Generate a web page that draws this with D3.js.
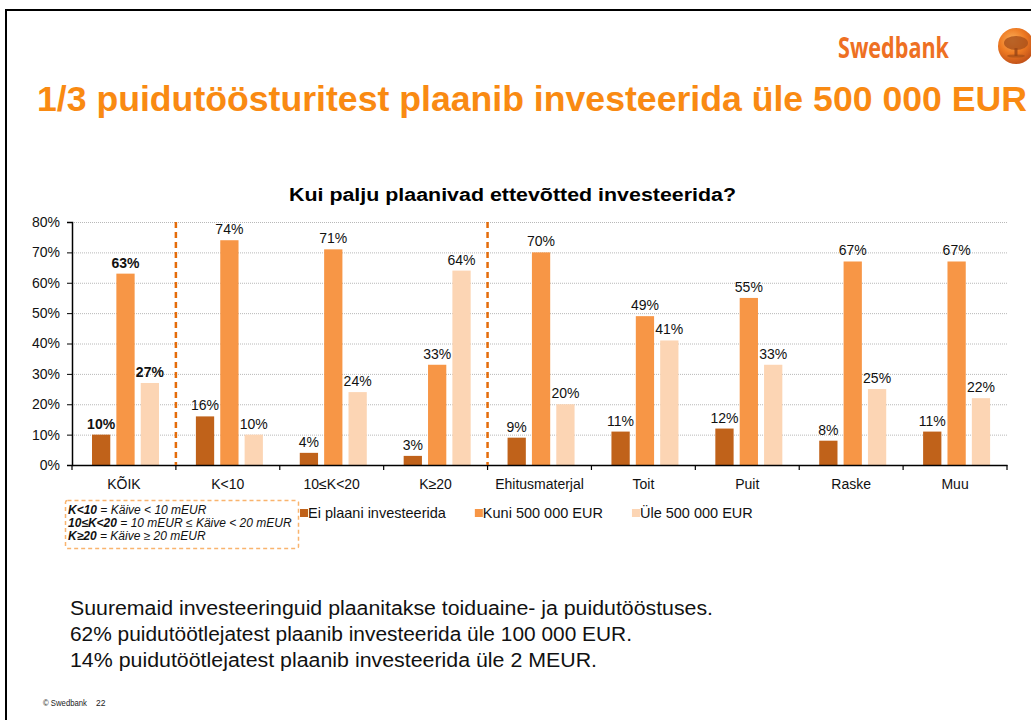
<!DOCTYPE html>
<html>
<head>
<meta charset="utf-8">
<script src="https://cdn.jsdelivr.net/npm/d3@7"></script>
<style>
  body { margin: 0; background: #fff; }
  svg { display: block; font-family: "Liberation Sans", Arial, sans-serif; }
</style>
</head>
<body>
<div id="chart"></div>
<script>
// data
var categories = ["KÕIK", "K<10", "10≤K<20", "K≥20", "Ehitusmaterjal", "Toit", "Puit", "Raske", "Muu"];
var seriesNames = ["Ei plaani investeerida", "Kuni 500 000 EUR", "Üle 500 000 EUR"];
var eiPlaani = [10, 16, 4, 3, 9, 11, 12, 8, 11];
var kuni500 = [63, 74, 71, 33, 70, 49, 55, 67, 67];
var ule500 = [27, 10, 24, 64, 20, 41, 33, 25, 22];
var yTicks = [0, 10, 20, 30, 40, 50, 60, 70, 80];
var separatorsAfter = ["KÕIK", "K≥20"]; // dashed lines after these groups
var noteLines = [
  ["K<10", " = Käive < 10 mEUR"],
  ["10≤K<20", " = 10 mEUR ≤ Käive < 20 mEUR"],
  ["K≥20", " = Käive ≥ 20 mEUR"]
];
var textLines = [
  "Suuremaid investeeringuid plaanitakse toiduaine- ja puidutööstuses.",
  "62% puidutöötlejatest plaanib investeerida üle 100 000 EUR.",
  "14% puidutöötlejatest plaanib investeerida üle 2 MEUR."
];
var textWidths = [643, 562, 527];

var colors = ["#C0621A", "#F79646", "#FCD5B4"];
var orange = "#F98A12";

var width = 1031, height = 720;
var svg = d3.select("#chart").append("svg")
  .attr("width", width)
  .attr("height", height);

// slide frame
svg.append("rect")
  .attr("x", 6).attr("y", 10)
  .attr("width", 1100).attr("height", 800)
  .attr("fill", "none").attr("stroke", "#000").attr("stroke-width", 2);

// logo
var defs = svg.append("defs");
var grad = defs.append("radialGradient").attr("id", "logoGrad")
  .attr("cx", "40%").attr("cy", "35%").attr("r", "65%");
grad.append("stop").attr("offset", "0%").attr("stop-color", "#FBB15C");
grad.append("stop").attr("offset", "55%").attr("stop-color", "#EE7A22");
grad.append("stop").attr("offset", "100%").attr("stop-color", "#C4541A");

svg.append("text")
  .attr("x", 838).attr("y", 58)
  .attr("font-family", "'Open Sans', 'Noto Sans', sans-serif")
  .attr("font-weight", 700)
  .attr("font-size", 28)
  .attr("textLength", 111).attr("lengthAdjust", "spacingAndGlyphs")
  .attr("fill", "#EE7023")
  .text("Swedbank");

var logo = svg.append("g").attr("transform", "translate(1016,46)");
logo.append("circle").attr("r", 18).attr("fill", "url(#logoGrad)");
logo.append("ellipse").attr("cx", 0).attr("cy", -3).attr("rx", 12).attr("ry", 7)
  .attr("fill", "#A9501A").attr("opacity", 0.8);
logo.append("rect").attr("x", -1.5).attr("y", 2).attr("width", 3).attr("height", 8)
  .attr("fill", "#9A4716").attr("opacity", 0.85);
logo.append("ellipse").attr("cx", 0).attr("cy", 10).attr("rx", 9).attr("ry", 1.6)
  .attr("fill", "#9A4716").attr("opacity", 0.6);

// main title
svg.append("text")
  .attr("x", 37).attr("y", 111)
  .attr("font-weight", "bold")
  .attr("font-size", 35)
  .attr("textLength", 990).attr("lengthAdjust", "spacingAndGlyphs")
  .attr("fill", orange)
  .text("1/3 puidutöösturitest plaanib investeerida üle 500 000 EUR");

// chart title
svg.append("text")
  .attr("x", 289).attr("y", 201)
  .attr("font-weight", "bold")
  .attr("font-size", 18)
  .attr("textLength", 447).attr("lengthAdjust", "spacingAndGlyphs")
  .attr("fill", "#000")
  .text("Kui palju plaanivad ettevõtted investeerida?");

// scales
var plotLeft = 72, plotRight = 1007, plotTop = 222, plotBottom = 465;
var x0 = d3.scaleBand().domain(categories).range([plotLeft, plotRight]).padding(0);
var x1 = d3.scaleBand().domain(d3.range(3)).range([20, 87]).paddingInner(0.25).paddingOuter(0);
var y = d3.scaleLinear().domain([0, 80]).range([plotBottom, plotTop]);

var table = categories.map(function(c, i) {
  return { cat: c, values: [eiPlaani[i], kuni500[i], ule500[i]] };
});

// gridlines
svg.append("g").selectAll("line")
  .data(yTicks.filter(function(d) { return d > 0; }))
  .enter().append("line")
  .attr("x1", plotLeft).attr("x2", plotRight)
  .attr("y1", function(d) { return y(d) + 0.5; })
  .attr("y2", function(d) { return y(d) + 0.5; })
  .attr("stroke", "#B8B8B8").attr("stroke-width", 1)
  .attr("stroke-dasharray", "1,1");

// bars
var groups = svg.append("g").selectAll("g")
  .data(table)
  .enter().append("g")
  .attr("transform", function(d) { return "translate(" + x0(d.cat) + ",0)"; });

groups.selectAll("rect")
  .data(function(d) { return d.values; })
  .enter().append("rect")
  .attr("x", function(d, i) { return x1(i); })
  .attr("width", x1.bandwidth())
  .attr("y", function(d) { return y(d); })
  .attr("height", function(d) { return plotBottom - y(d); })
  .attr("fill", function(d, i) { return colors[i]; });

groups.selectAll("text")
  .data(function(d) { return d.values.map(function(v) { return { v: v, bold: d.cat === "KÕIK" }; }); })
  .enter().append("text")
  .attr("x", function(d, i) { return x1(i) + x1.bandwidth() / 2; })
  .attr("y", function(d) { return y(d.v) - 6; })
  .attr("text-anchor", "middle")
  .attr("font-size", 14)
  .attr("font-weight", function(d) { return d.bold ? "bold" : "normal"; })
  .attr("fill", "#111")
  .text(function(d) { return d.v + "%"; });

// y axis
var yAxis = svg.append("g")
  .attr("transform", "translate(" + plotLeft + ",0)")
  .call(d3.axisLeft(y).tickValues(yTicks).tickSize(5).tickPadding(7)
    .tickFormat(function(d) { return d + "%"; }));
yAxis.select(".domain").attr("stroke", "#000").attr("stroke-width", 1.5);
yAxis.selectAll(".tick line").attr("stroke", "#000");
yAxis.selectAll("text").attr("font-size", 14).attr("fill", "#111")
  .attr("font-family", "'Liberation Sans', Arial, sans-serif");

// x axis
var xAxis = svg.append("g")
  .attr("transform", "translate(0," + plotBottom + ")")
  .call(d3.axisBottom(x0).tickSize(0).tickPadding(14));
xAxis.select(".domain").attr("stroke", "#000").attr("stroke-width", 1.5);
xAxis.selectAll("text").attr("font-size", 14).attr("fill", "#111")
  .attr("font-family", "'Liberation Sans', Arial, sans-serif");

// category boundary ticks
var bounds = categories.map(function(c) { return x0(c); }).concat([x0.range()[1]]);
svg.append("g").selectAll("line")
  .data(bounds)
  .enter().append("line")
  .attr("x1", function(d) { return d; }).attr("x2", function(d) { return d; })
  .attr("y1", plotBottom).attr("y2", plotBottom + 5)
  .attr("stroke", "#000").attr("stroke-width", 1.2);

// dashed separators
svg.append("g").selectAll("line")
  .data(separatorsAfter)
  .enter().append("line")
  .attr("x1", function(d) { return x0(d) + x0.bandwidth(); })
  .attr("x2", function(d) { return x0(d) + x0.bandwidth(); })
  .attr("y1", plotTop).attr("y2", plotBottom)
  .attr("stroke", "#E46C0A").attr("stroke-width", 2.5)
  .attr("stroke-dasharray", "6,4");

// note box
svg.append("rect")
  .attr("x", 65.5).attr("y", 500.5).attr("width", 233).attr("height", 48).attr("rx", 2)
  .attr("fill", "none").attr("stroke", "#F9B46E").attr("stroke-width", 1.5)
  .attr("stroke-dasharray", "4,3");

var notes = svg.append("g").selectAll("text")
  .data(noteLines)
  .enter().append("text")
  .attr("x", 68)
  .attr("y", function(d, i) { return 514 + i * 13; })
  .attr("font-size", 12)
  .attr("font-style", "italic")
  .attr("fill", "#111");
notes.append("tspan").attr("font-weight", "bold").text(function(d) { return d[0]; });
notes.append("tspan").text(function(d) { return d[1]; });

// legend
var lx = 300;
seriesNames.forEach(function(name, i) {
  svg.append("rect")
    .attr("x", lx).attr("y", 509).attr("width", 8).attr("height", 8)
    .attr("fill", colors[i]);
  var t = svg.append("text")
    .attr("x", lx + 8).attr("y", 518)
    .attr("font-size", 14.5).attr("fill", "#111")
    .text(name);
  lx += 8 + t.node().getComputedTextLength() + 29;
});

// comment text
svg.append("g").selectAll("text")
  .data(textLines)
  .enter().append("text")
  .attr("x", 70)
  .attr("y", function(d, i) { return 615 + i * 26; })
  .attr("font-size", 20)
  .attr("textLength", function(d, i) { return textWidths[i]; })
  .attr("lengthAdjust", "spacingAndGlyphs")
  .attr("fill", "#111")
  .text(function(d) { return d; });

// footer
svg.append("text")
  .attr("x", 43).attr("y", 706)
  .attr("font-size", 8.5).attr("fill", "#222")
  .attr("textLength", 44).attr("lengthAdjust", "spacingAndGlyphs")
  .text("© Swedbank");
svg.append("text")
  .attr("x", 96).attr("y", 706)
  .attr("font-size", 8.5).attr("fill", "#222")
  .text("22");
</script>
</body>
</html>
